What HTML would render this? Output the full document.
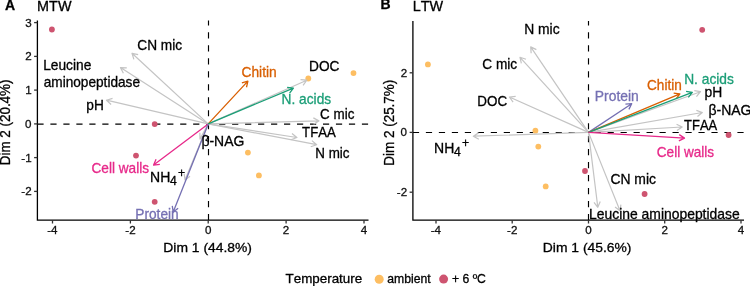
<!DOCTYPE html>
<html><head><meta charset="utf-8"><style>html,body{margin:0;padding:0;background:#fff;}svg{display:block;will-change:transform;}text{font-family:"Liberation Sans",sans-serif;font-kerning:none;}</style></head><body>
<svg width="750" height="286" viewBox="0 0 750 286" font-family='"Liberation Sans", sans-serif'>
<rect width="750" height="286" fill="#fff"/>
<g>
<line x1="37.4" y1="124.15" x2="368.5" y2="124.15" stroke="#000" stroke-width="1.15" stroke-dasharray="6.2 6.78"/>
<line x1="208.5" y1="220.2" x2="208.5" y2="20.6" stroke="#000" stroke-width="1.15" stroke-dasharray="6.2 6.78"/>
<circle cx="308.3" cy="78.5" r="2.9" fill="#FDBE62"/>
<circle cx="353.5" cy="73.1" r="2.9" fill="#FDBE62"/>
<circle cx="247.9" cy="152.6" r="2.9" fill="#FDBE62"/>
<circle cx="258.9" cy="175.4" r="2.9" fill="#FDBE62"/>
<circle cx="51.9" cy="29.5" r="2.9" fill="#CE5470"/>
<circle cx="154.7" cy="124.1" r="2.9" fill="#CE5470"/>
<circle cx="136" cy="155.6" r="2.9" fill="#CE5470"/>
<circle cx="154.7" cy="201.8" r="2.9" fill="#CE5470"/>
<path d="M208.20,123.90L132.00,53.30M133.86,59.32L132.00,53.30L138.14,54.70" stroke="#C4C4C4" stroke-width="1.2" fill="none" stroke-linecap="butt" stroke-linejoin="round"/>
<path d="M208.20,123.90L120.50,67.60M123.39,73.20L120.50,67.60L126.79,67.90" stroke="#C4C4C4" stroke-width="1.2" fill="none" stroke-linecap="butt" stroke-linejoin="round"/>
<path d="M208.20,123.90L106.50,100.20M111.10,104.51L106.50,100.20L112.53,98.37" stroke="#C4C4C4" stroke-width="1.2" fill="none" stroke-linecap="butt" stroke-linejoin="round"/>
<path d="M208.20,123.90L306.80,80.20M300.54,79.53L306.80,80.20L303.09,85.29" stroke="#C4C4C4" stroke-width="1.2" fill="none" stroke-linecap="butt" stroke-linejoin="round"/>
<path d="M208.20,123.90L318.90,120.90M313.36,117.90L318.90,120.90L313.53,124.20" stroke="#C4C4C4" stroke-width="1.2" fill="none" stroke-linecap="butt" stroke-linejoin="round"/>
<path d="M208.20,123.90L296.90,137.50M291.98,133.56L296.90,137.50L291.03,139.79" stroke="#C4C4C4" stroke-width="1.2" fill="none" stroke-linecap="butt" stroke-linejoin="round"/>
<path d="M208.20,123.90L316.70,144.70M311.93,140.58L316.70,144.70L310.75,146.77" stroke="#C4C4C4" stroke-width="1.2" fill="none" stroke-linecap="butt" stroke-linejoin="round"/>
<path d="M208.20,123.90L200.00,139.00M205.37,135.71L200.00,139.00L199.84,132.70" stroke="#C4C4C4" stroke-width="1.2" fill="none" stroke-linecap="butt" stroke-linejoin="round"/>
<path d="M208.20,123.90L185.00,180.00M190.00,176.16L185.00,180.00L184.17,173.75" stroke="#C4C4C4" stroke-width="1.2" fill="none" stroke-linecap="butt" stroke-linejoin="round"/>
<path d="M208.20,123.90L247.90,81.10M241.88,82.96L247.90,81.10L246.50,87.24" stroke="#D95F02" stroke-width="1.3" fill="none" stroke-linecap="butt" stroke-linejoin="round"/>
<path d="M208.20,123.90L293.40,88.10M287.15,87.31L293.40,88.10L289.59,93.12" stroke="#1B9E77" stroke-width="1.3" fill="none" stroke-linecap="butt" stroke-linejoin="round"/>
<path d="M208.20,123.90L153.60,165.10M159.85,164.33L153.60,165.10L156.06,159.30" stroke="#E7298A" stroke-width="1.3" fill="none" stroke-linecap="butt" stroke-linejoin="round"/>
<path d="M208.20,123.90L173.20,212.10M178.14,208.19L173.20,212.10L172.28,205.87" stroke="#7570B3" stroke-width="1.3" fill="none" stroke-linecap="butt" stroke-linejoin="round"/>
<path d="M37.4,20.6V220.2H368.5" stroke="#000" stroke-width="1.3" fill="none"/>
<line x1="34.1" y1="22.6" x2="37.4" y2="22.6" stroke="#333" stroke-width="1.3"/>
<text x="25.16" y="26.65" font-size="11.6" fill="#111" stroke="#111" stroke-width="0.3">3</text>
<line x1="34.1" y1="56.4" x2="37.4" y2="56.4" stroke="#333" stroke-width="1.3"/>
<text x="25.23" y="60.45" font-size="11.6" fill="#111" stroke="#111" stroke-width="0.3">2</text>
<line x1="34.1" y1="90.1" x2="37.4" y2="90.1" stroke="#333" stroke-width="1.3"/>
<text x="25.22" y="94.09" font-size="11.6" fill="#111" stroke="#111" stroke-width="0.3">1</text>
<line x1="34.1" y1="123.9" x2="37.4" y2="123.9" stroke="#333" stroke-width="1.3"/>
<text x="25.10" y="127.95" font-size="11.6" fill="#111" stroke="#111" stroke-width="0.3">0</text>
<line x1="34.1" y1="157.6" x2="37.4" y2="157.6" stroke="#333" stroke-width="1.3"/>
<text x="21.35" y="161.59" font-size="11.6" fill="#111" stroke="#111" stroke-width="0.3">-1</text>
<line x1="34.1" y1="191.4" x2="37.4" y2="191.4" stroke="#333" stroke-width="1.3"/>
<text x="21.37" y="195.45" font-size="11.6" fill="#111" stroke="#111" stroke-width="0.3">-2</text>
<line x1="52.5" y1="220.2" x2="52.5" y2="223.5" stroke="#333" stroke-width="1.3"/>
<text x="47.26" y="234.10" font-size="11.6" fill="#111" stroke="#111" stroke-width="0.3">-4</text>
<line x1="130.4" y1="220.2" x2="130.4" y2="223.5" stroke="#333" stroke-width="1.3"/>
<text x="125.28" y="234.10" font-size="11.6" fill="#111" stroke="#111" stroke-width="0.3">-2</text>
<line x1="208.2" y1="220.2" x2="208.2" y2="223.5" stroke="#333" stroke-width="1.3"/>
<text x="204.97" y="234.10" font-size="11.6" fill="#111" stroke="#111" stroke-width="0.3">0</text>
<line x1="286.1" y1="220.2" x2="286.1" y2="223.5" stroke="#333" stroke-width="1.3"/>
<text x="282.87" y="234.10" font-size="11.6" fill="#111" stroke="#111" stroke-width="0.3">2</text>
<line x1="364" y1="220.2" x2="364" y2="223.5" stroke="#333" stroke-width="1.3"/>
<text x="360.81" y="234.10" font-size="11.6" fill="#111" stroke="#111" stroke-width="0.3">4</text>
<line x1="412.9" y1="132.5" x2="744" y2="132.5" stroke="#000" stroke-width="1.15" stroke-dasharray="6.2 6.78"/>
<line x1="588.5" y1="220.2" x2="588.5" y2="20.9" stroke="#000" stroke-width="1.15" stroke-dasharray="6.2 6.78"/>
<circle cx="427.9" cy="64.4" r="2.9" fill="#FDBE62"/>
<circle cx="535.4" cy="130.7" r="2.9" fill="#FDBE62"/>
<circle cx="538.3" cy="146.6" r="2.9" fill="#FDBE62"/>
<circle cx="545.7" cy="186.4" r="2.9" fill="#FDBE62"/>
<circle cx="702.2" cy="29.8" r="2.9" fill="#CE5470"/>
<circle cx="728.6" cy="135" r="2.9" fill="#CE5470"/>
<circle cx="585" cy="171" r="2.9" fill="#CE5470"/>
<circle cx="644.6" cy="194" r="2.9" fill="#CE5470"/>
<path d="M588.50,132.40L530.70,46.90M531.15,53.18L530.70,46.90L536.37,49.66" stroke="#C4C4C4" stroke-width="1.2" fill="none" stroke-linecap="butt" stroke-linejoin="round"/>
<path d="M588.50,132.40L520.00,57.30M521.35,63.45L520.00,57.30L526.00,59.21" stroke="#C4C4C4" stroke-width="1.2" fill="none" stroke-linecap="butt" stroke-linejoin="round"/>
<path d="M588.50,132.40L509.40,97.00M513.09,102.10L509.40,97.00L515.67,96.35" stroke="#C4C4C4" stroke-width="1.2" fill="none" stroke-linecap="butt" stroke-linejoin="round"/>
<path d="M588.50,132.40L473.30,136.20M478.86,139.17L473.30,136.20L478.65,132.87" stroke="#C4C4C4" stroke-width="1.2" fill="none" stroke-linecap="butt" stroke-linejoin="round"/>
<path d="M588.50,132.40L700.50,91.70M694.30,90.60L700.50,91.70L696.45,96.52" stroke="#C4C4C4" stroke-width="1.2" fill="none" stroke-linecap="butt" stroke-linejoin="round"/>
<path d="M588.50,132.40L702.30,112.50M696.38,110.34L702.30,112.50L697.47,116.54" stroke="#C4C4C4" stroke-width="1.2" fill="none" stroke-linecap="butt" stroke-linejoin="round"/>
<path d="M588.50,132.40L682.20,127.00M676.57,124.17L682.20,127.00L676.93,130.46" stroke="#C4C4C4" stroke-width="1.2" fill="none" stroke-linecap="butt" stroke-linejoin="round"/>
<path d="M588.50,132.40L597.80,207.30M600.25,201.50L597.80,207.30L594.00,202.27" stroke="#C4C4C4" stroke-width="1.2" fill="none" stroke-linecap="butt" stroke-linejoin="round"/>
<path d="M588.50,132.40L620.00,210.80M620.89,204.56L620.00,210.80L615.04,206.91" stroke="#C4C4C4" stroke-width="1.2" fill="none" stroke-linecap="butt" stroke-linejoin="round"/>
<path d="M588.50,132.40L631.70,103.70M625.41,104.10L631.70,103.70L628.90,109.34" stroke="#7570B3" stroke-width="1.3" fill="none" stroke-linecap="butt" stroke-linejoin="round"/>
<path d="M588.50,132.40L679.90,93.80M673.65,93.02L679.90,93.80L676.10,98.82" stroke="#D95F02" stroke-width="1.3" fill="none" stroke-linecap="butt" stroke-linejoin="round"/>
<path d="M588.50,132.40L692.30,92.40M686.08,91.42L692.30,92.40L688.34,97.30" stroke="#1B9E77" stroke-width="1.3" fill="none" stroke-linecap="butt" stroke-linejoin="round"/>
<path d="M588.50,132.40L684.50,138.10M679.24,134.63L684.50,138.10L678.87,140.92" stroke="#E7298A" stroke-width="1.3" fill="none" stroke-linecap="butt" stroke-linejoin="round"/>
<path d="M412.9,20.9V220.2H744" stroke="#000" stroke-width="1.3" fill="none"/>
<line x1="409.59999999999997" y1="72.8" x2="412.9" y2="72.8" stroke="#333" stroke-width="1.3"/>
<text x="400.73" y="76.85" font-size="11.6" fill="#111" stroke="#111" stroke-width="0.3">2</text>
<line x1="409.59999999999997" y1="132.4" x2="412.9" y2="132.4" stroke="#333" stroke-width="1.3"/>
<text x="400.60" y="136.45" font-size="11.6" fill="#111" stroke="#111" stroke-width="0.3">0</text>
<line x1="409.59999999999997" y1="192.2" x2="412.9" y2="192.2" stroke="#333" stroke-width="1.3"/>
<text x="396.87" y="196.25" font-size="11.6" fill="#111" stroke="#111" stroke-width="0.3">-2</text>
<line x1="436" y1="220.2" x2="436" y2="223.5" stroke="#333" stroke-width="1.3"/>
<text x="430.76" y="234.10" font-size="11.6" fill="#111" stroke="#111" stroke-width="0.3">-4</text>
<line x1="512.2" y1="220.2" x2="512.2" y2="223.5" stroke="#333" stroke-width="1.3"/>
<text x="507.08" y="234.10" font-size="11.6" fill="#111" stroke="#111" stroke-width="0.3">-2</text>
<line x1="588.5" y1="220.2" x2="588.5" y2="223.5" stroke="#333" stroke-width="1.3"/>
<text x="585.27" y="234.10" font-size="11.6" fill="#111" stroke="#111" stroke-width="0.3">0</text>
<line x1="664.7" y1="220.2" x2="664.7" y2="223.5" stroke="#333" stroke-width="1.3"/>
<text x="661.47" y="234.10" font-size="11.6" fill="#111" stroke="#111" stroke-width="0.3">2</text>
<line x1="741" y1="220.2" x2="741" y2="223.5" stroke="#333" stroke-width="1.3"/>
<text x="737.81" y="234.10" font-size="11.6" fill="#111" stroke="#111" stroke-width="0.3">4</text>
<text transform="translate(137.30,50.00) scale(0.9776,1)" font-size="14.0" font-weight="normal" fill="#000" stroke="#000" stroke-width="0.3" >CN mic</text>
<text transform="translate(43.17,70.20) scale(0.9816,1)" font-size="14.0" font-weight="normal" fill="#000" stroke="#000" stroke-width="0.3" >Leucine</text>
<text transform="translate(43.72,86.90) scale(0.9751,1)" font-size="14.0" font-weight="normal" fill="#000" stroke="#000" stroke-width="0.3" >aminopeptidase</text>
<text transform="translate(86.32,110.10) scale(0.9778,1)" font-size="14.0" font-weight="normal" fill="#000" stroke="#000" stroke-width="0.3" >pH</text>
<text transform="translate(241.50,76.90) scale(0.9832,1)" font-size="14.0" font-weight="normal" fill="#D95F02" stroke="#D95F02" stroke-width="0.3" >Chitin</text>
<text transform="translate(309.08,71.30) scale(0.9786,1)" font-size="14.0" font-weight="normal" fill="#000" stroke="#000" stroke-width="0.3" >DOC</text>
<text transform="translate(281.57,103.80) scale(0.9812,1)" font-size="14.0" font-weight="normal" fill="#1B9E77" stroke="#1B9E77" stroke-width="0.3" >N. acids</text>
<text transform="translate(320.12,119.20) scale(0.9570,1)" font-size="14.0" font-weight="normal" fill="#000" stroke="#000" stroke-width="0.3" >C mic</text>
<text transform="translate(302.10,137.10) scale(0.9397,1)" font-size="14.0" font-weight="normal" fill="#000" stroke="#000" stroke-width="0.3" >TFAA</text>
<text transform="translate(315.30,158.30) scale(0.9575,1)" font-size="14.0" font-weight="normal" fill="#000" stroke="#000" stroke-width="0.3" >N mic</text>
<text transform="translate(201.43,146.10) scale(0.9967,1)" font-size="14.0" font-weight="normal" fill="#000" stroke="#000" stroke-width="0.3" >β-NAG</text>
<text transform="translate(91.51,173.20) scale(0.9740,1)" font-size="14.0" font-weight="normal" fill="#E7298A" stroke="#E7298A" stroke-width="0.3" >Cell walls</text>
<text transform="translate(135.28,219.00) scale(0.9787,1)" font-size="14.0" font-weight="normal" fill="#7570B3" stroke="#7570B3" stroke-width="0.3" >Protein</text>
<text transform="translate(524.26,34.10) scale(0.9896,1)" font-size="14.0" font-weight="normal" fill="#000" stroke="#000" stroke-width="0.3" >N mic</text>
<text transform="translate(482.31,69.40) scale(0.9743,1)" font-size="14.0" font-weight="normal" fill="#000" stroke="#000" stroke-width="0.3" >C mic</text>
<text transform="translate(477.30,106.40) scale(0.9582,1)" font-size="14.0" font-weight="normal" fill="#000" stroke="#000" stroke-width="0.3" >DOC</text>
<text transform="translate(594.86,101.30) scale(0.9905,1)" font-size="14.0" font-weight="normal" fill="#7570B3" stroke="#7570B3" stroke-width="0.3" >Protein</text>
<text transform="translate(647.01,90.00) scale(0.9715,1)" font-size="14.0" font-weight="normal" fill="#D95F02" stroke="#D95F02" stroke-width="0.3" >Chitin</text>
<text transform="translate(684.17,84.10) scale(0.9853,1)" font-size="14.0" font-weight="normal" fill="#1B9E77" stroke="#1B9E77" stroke-width="0.3" >N. acids</text>
<text transform="translate(704.61,96.60) scale(0.9904,1)" font-size="14.0" font-weight="normal" fill="#000" stroke="#000" stroke-width="0.3" >pH</text>
<text transform="translate(708.43,115.10)" font-size="14.0" font-weight="normal" fill="#000" stroke="#000" stroke-width="0.3" >β-NAG</text>
<text transform="translate(684.11,129.50) scale(0.9256,1)" font-size="14.0" font-weight="normal" fill="#000" stroke="#000" stroke-width="0.3" >TFAA</text>
<text transform="translate(656.81,157.30) scale(0.9705,1)" font-size="14.0" font-weight="normal" fill="#E7298A" stroke="#E7298A" stroke-width="0.3" >Cell walls</text>
<text transform="translate(610.39,184.30) scale(0.9932,1)" font-size="14.0" font-weight="normal" fill="#000" stroke="#000" stroke-width="0.3" >CN mic</text>
<text transform="translate(589.06,218.60) scale(0.9939,1)" font-size="14.0" font-weight="normal" fill="#000" stroke="#000" stroke-width="0.3" >Leucine aminopeptidase</text>
<text transform="translate(150.05,181.80)" font-size="14.0" font-weight="normal" fill="#000" stroke="#000" stroke-width="0.3" >NH</text>
<text transform="translate(170.12,185.00)" font-size="12.2" font-weight="normal" fill="#000" stroke="#000" stroke-width="0.3" >4</text>
<text transform="translate(177.90,176.50)" font-size="12.2" font-weight="normal" fill="#000" stroke="#000" stroke-width="0.3" >+</text>
<text transform="translate(434.05,152.60)" font-size="14.0" font-weight="normal" fill="#000" stroke="#000" stroke-width="0.3" >NH</text>
<text transform="translate(454.12,155.80)" font-size="12.2" font-weight="normal" fill="#000" stroke="#000" stroke-width="0.3" >4</text>
<text transform="translate(461.90,147.30)" font-size="12.2" font-weight="normal" fill="#000" stroke="#000" stroke-width="0.3" >+</text>
<text transform="translate(5.05,9.70)" font-size="14" font-weight="bold" fill="#000" stroke="#000" stroke-width="0.3" >A</text>
<text transform="translate(37.12,11.20)" font-size="14.4" font-weight="normal" fill="#000" stroke="#000" stroke-width="0.3" >MTW</text>
<text transform="translate(380.46,9.40)" font-size="14" font-weight="bold" fill="#000" stroke="#000" stroke-width="0.3" >B</text>
<text transform="translate(412.72,11.20)" font-size="14.4" font-weight="normal" fill="#000" stroke="#000" stroke-width="0.3" >LTW</text>
<text transform="translate(163.36,251.80) scale(1.0358,1)" font-size="13.4" font-weight="normal" fill="#000" stroke="#000" stroke-width="0.3" >Dim 1 (44.8%)</text>
<text transform="translate(542.86,251.80) scale(1.0358,1)" font-size="13.4" font-weight="normal" fill="#000" stroke="#000" stroke-width="0.3" >Dim 1 (45.6%)</text>
<text transform="translate(10.3,164.2) rotate(-90) scale(0.9663,1)" x="-1.14" y="0" font-size="13.9" stroke="#000" stroke-width="0.3">Dim 2 (20.4%)</text>
<text transform="translate(393.7,164.6) rotate(-90) scale(0.9686,1)" x="-1.14" y="0" font-size="13.9" stroke="#000" stroke-width="0.3">Dim 2 (25.7%)</text>
<text transform="translate(285.50,282.60)" font-size="13.4" font-weight="normal" fill="#000" stroke="#000" stroke-width="0.3" >Temperature</text>
<circle cx="379.2" cy="279.2" r="4.5" fill="#FDBE62"/>
<text transform="translate(387.28,282.60)" font-size="12.2" font-weight="normal" fill="#000" stroke="#000" stroke-width="0.3" >ambient</text>
<circle cx="443.6" cy="279.1" r="4.5" fill="#CE5470"/>
<text transform="translate(452.00,282.60)" font-size="12.2" font-weight="normal" fill="#000" stroke="#000" stroke-width="0.3" >+ 6 ºC</text>
</g>
</svg>
</body></html>
